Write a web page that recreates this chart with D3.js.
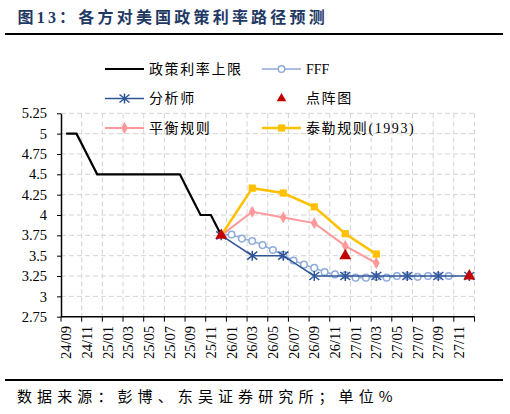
<!DOCTYPE html>
<html>
<head>
<meta charset="utf-8">
<script src="https://cdn.jsdelivr.net/npm/d3@7"></script>
<style>
  body { margin: 0; background: #fff; }
  svg { display: block; }
</style>
</head>
<body>
<div id="chart"></div>
<script>
// months on the category axis
const months = ["24/09","24/10","24/11","24/12","25/01","25/02","25/03","25/04","25/05","25/06",
  "25/07","25/08","25/09","25/10","25/11","25/12","26/01","26/02","26/03","26/04",
  "26/05","26/06","26/07","26/08","26/09","26/10","26/11","26/12","27/01","27/02",
  "27/03","27/04","27/05","27/06","27/07","27/08","27/09","27/10","27/11","27/12"];
const tickLabels = ["24/09","24/11","25/01","25/03","25/05","25/07","25/09","25/11","26/01","26/03",
  "26/05","26/07","26/09","26/11","27/01","27/03","27/05","27/07","27/09","27/11"];
const yTicks = [2.75, 3, 3.25, 3.5, 3.75, 4, 4.25, 4.5, 4.75, 5, 5.25];

// series: [month, value]
const policyRate = [["24/09",5],["24/10",5],["24/11",4.75],["24/12",4.5],["25/01",4.5],["25/02",4.5],
  ["25/03",4.5],["25/04",4.5],["25/05",4.5],["25/06",4.5],["25/07",4.5],["25/08",4.5],
  ["25/09",4.25],["25/10",4],["25/11",4],["25/12",3.75]];
const fff = [["25/12",3.75],["26/01",3.76],["26/02",3.71],["26/03",3.68],["26/04",3.63],["26/05",3.57],
  ["26/06",3.51],["26/07",3.44],["26/08",3.39],["26/09",3.35],["26/10",3.30],["26/11",3.27],
  ["26/12",3.26],["27/01",3.23],["27/02",3.23],["27/03",3.24],["27/04",3.23],["27/05",3.25],
  ["27/06",3.25],["27/07",3.24],["27/08",3.25],["27/09",3.25],["27/10",3.25]];
const analyst = [["25/12",3.75],["26/03",3.5],["26/06",3.5],["26/09",3.25],["26/12",3.25],
  ["27/03",3.25],["27/06",3.25],["27/09",3.25],["27/12",3.25]];
const dotPlot = [["25/12",3.75],["26/12",3.5],["27/12",3.25]];
const balanced = [["25/12",3.75],["26/03",4.04],["26/06",3.97],["26/09",3.90],["26/12",3.62],["27/03",3.41]];
const taylor = [["25/12",3.75],["26/03",4.33],["26/06",4.27],["26/09",4.10],["26/12",3.77],["27/03",3.52]];

const W = 510, H = 414;
const cjk = "'Noto Sans CJK SC', sans-serif";
const serif = "'Liberation Serif', 'Times New Roman', serif";

const svg = d3.select("#chart").append("svg")
    .attr("width", W)
    .attr("height", H);

// title
svg.append("text")
    .attr("x", 17.5).attr("y", 22.5)
    .style("font-family", serif + ", " + cjk)
    .style("font-size", "16px")
    .style("font-weight", "bold")
    .style("letter-spacing", "3.2px")
    .style("fill", "#1f3864")
    .text("图13：各方对美国政策利率路径预测");

svg.append("line").attr("x1", 5).attr("x2", 503).attr("y1", 34).attr("y2", 34)
    .attr("stroke", "#000").attr("stroke-width", 2);
svg.append("line").attr("x1", 5).attr("x2", 503).attr("y1", 380).attr("y2", 380)
    .attr("stroke", "#000").attr("stroke-width", 2);

svg.append("text")
    .attr("x", 17).attr("y", 402)
    .style("font-family", cjk)
    .style("font-size", "15px")
    .style("letter-spacing", "5.1px")
    .style("fill", "#000")
    .text("数据来源：彭博、东吴证券研究所；单位%");

// scales
const x = d3.scaleBand().domain(months).range([61, 474.5]).padding(0);
const y = d3.scaleLinear().domain([2.75, 5.25]).range([316.7, 113.3]);
const cx = m => x(m) + x.bandwidth() / 2;

// grid
const boundaries = d3.range(0, months.length + 1, 2).map(i => 61 + i * x.bandwidth());
svg.append("g").selectAll("line")
    .data(boundaries.slice(1))
    .join("line")
    .attr("x1", d => d).attr("x2", d => d)
    .attr("y1", y(5.25)).attr("y2", y(2.75))
    .attr("stroke", "#d4d4d4").attr("stroke-dasharray", "5,3");
svg.append("g").selectAll("line")
    .data(yTicks.slice(1))
    .join("line")
    .attr("x1", 61).attr("x2", 474.5)
    .attr("y1", d => y(d)).attr("y2", d => y(d))
    .attr("stroke", "#d4d4d4").attr("stroke-dasharray", "5,3");

// y axis
const yAxis = svg.append("g")
    .attr("transform", "translate(61,0)")
    .call(d3.axisLeft(y).tickValues(yTicks).tickSize(4).tickSizeOuter(0).tickPadding(10)
        .tickFormat(d => d3.format("")(d)));
yAxis.select(".domain").attr("stroke", "#000").attr("stroke-width", 1.5);
yAxis.selectAll("line").attr("stroke", "#000");
yAxis.selectAll("text")
    .style("font-family", serif).style("font-size", "14.5px").style("fill", "#000");

// x axis
svg.append("line").attr("x1", 61).attr("x2", 474.5)
    .attr("y1", y(2.75)).attr("y2", y(2.75))
    .attr("stroke", "#000").attr("stroke-width", 1.5);
svg.append("g").selectAll("line")
    .data(boundaries)
    .join("line")
    .attr("x1", d => d).attr("x2", d => d)
    .attr("y1", y(2.75)).attr("y2", y(2.75) + 5)
    .attr("stroke", "#000");
svg.append("g").selectAll("text")
    .data(tickLabels)
    .join("text")
    .attr("transform", d => `translate(${cx(d)},326) rotate(-90)`)
    .attr("text-anchor", "end")
    .attr("dy", "0.35em")
    .style("font-family", serif).style("font-size", "14.5px").style("fill", "#000")
    .text(d => d);

// lines
const line = d3.line().x(d => cx(d[0])).y(d => y(d[1]));

function asteriskPath(r) {
  return `M0,${-r}L0,${r}M${-r},${-r * 0.8}L${r},${r * 0.8}M${-r},${r * 0.8}L${r},${-r * 0.8}`;
}

svg.append("path").datum(policyRate).attr("d", line)
    .attr("fill", "none").attr("stroke", "#000").attr("stroke-width", 2.2);

// FFF
svg.append("path").datum(fff).attr("d", line)
    .attr("fill", "none").attr("stroke", "#8eaadb").attr("stroke-width", 1.5);
svg.append("g").selectAll("circle")
    .data(fff.slice(1))
    .join("circle")
    .attr("cx", d => cx(d[0])).attr("cy", d => y(d[1])).attr("r", 3.3)
    .attr("fill", "#fff").attr("stroke", "#8eaadb").attr("stroke-width", 1.5);

// analyst
svg.append("path").datum(analyst).attr("d", line)
    .attr("fill", "none").attr("stroke", "#2f5597").attr("stroke-width", 1.6);
svg.append("g").selectAll("path")
    .data(analyst)
    .join("path")
    .attr("transform", d => `translate(${cx(d[0])},${y(d[1])})`)
    .attr("d", asteriskPath(5))
    .attr("stroke", "#2f5597").attr("stroke-width", 1.5).attr("fill", "none");

// balanced rule
svg.append("path").datum(balanced).attr("d", line)
    .attr("fill", "none").attr("stroke", "#ff9999").attr("stroke-width", 2);
svg.append("g").selectAll("path")
    .data(balanced.slice(1))
    .join("path")
    .attr("transform", d => `translate(${cx(d[0])},${y(d[1])})`)
    .attr("d", d3.symbol(d3.symbolDiamond, 40)())
    .attr("fill", "#ff9999");

// Taylor rule
svg.append("path").datum(taylor).attr("d", line)
    .attr("fill", "none").attr("stroke", "#ffc000").attr("stroke-width", 2.6);
svg.append("g").selectAll("rect")
    .data(taylor.slice(1))
    .join("rect")
    .attr("x", d => cx(d[0]) - 3.6).attr("y", d => y(d[1]) - 3.6)
    .attr("width", 7.2).attr("height", 7.2)
    .attr("fill", "#ffc000");

// dot plot
svg.append("g").selectAll("path")
    .data(dotPlot)
    .join("path")
    .attr("transform", d => `translate(${cx(d[0])},${y(d[1])})`)
    .attr("d", d3.symbol(d3.symbolTriangle, 62)())
    .attr("fill", "#c00000");

// legend
const legendItems = [
  { name: "政策利率上限", col: 0, row: 0, color: "#000", w: 2.2, marker: null },
  { name: "FFF", col: 1, row: 0, color: "#8eaadb", w: 1.5, marker: "circle" },
  { name: "分析师", col: 0, row: 1, color: "#2f5597", w: 1.6, marker: "asterisk" },
  { name: "点阵图", col: 1, row: 1, color: "#c00000", w: 0, marker: "triangle" },
  { name: "平衡规则", col: 0, row: 2, color: "#ff9999", w: 2, marker: "diamond" },
  { name: "泰勒规则(1993)", col: 1, row: 2, color: "#ffc000", w: 2.6, marker: "square" }
];
const colX = [105, 262], rowY = [69, 98.5, 128];

const lg = svg.append("g").selectAll("g")
    .data(legendItems)
    .join("g")
    .attr("transform", d => `translate(${colX[d.col]},${rowY[d.row]})`);

lg.filter(d => d.w > 0).append("line")
    .attr("x1", 0).attr("x2", 39).attr("y1", 0).attr("y2", 0)
    .attr("stroke", d => d.color).attr("stroke-width", d => d.w);

lg.each(function (d) {
  const g = d3.select(this);
  if (d.marker === "circle") {
    g.append("circle").attr("cx", 19.5).attr("cy", 0).attr("r", 3.3)
        .attr("fill", "#fff").attr("stroke", d.color).attr("stroke-width", 1.5);
  } else if (d.marker === "asterisk") {
    g.append("path").attr("transform", "translate(19.5,0)").attr("d", asteriskPath(5))
        .attr("stroke", d.color).attr("stroke-width", 1.5).attr("fill", "none");
  } else if (d.marker === "triangle") {
    g.append("path").attr("transform", "translate(19.5,0)")
        .attr("d", d3.symbol(d3.symbolTriangle, 40)()).attr("fill", d.color);
  } else if (d.marker === "diamond") {
    g.append("path").attr("transform", "translate(19.5,0)")
        .attr("d", d3.symbol(d3.symbolDiamond, 40)()).attr("fill", d.color);
  } else if (d.marker === "square") {
    g.append("rect").attr("x", 16).attr("y", -3.6).attr("width", 7.2).attr("height", 7.2)
        .attr("fill", d.color);
  }
});

lg.append("text")
    .attr("x", 44)
    .attr("dy", "0.35em")
    .style("font-family", serif + ", " + cjk)
    .style("font-size", "14px")
    .style("letter-spacing", d => /^[A-Z]+$/.test(d.name) ? "0px" : "1.6px")
    .style("fill", "#000")
    .text(d => d.name);
</script>
</body>
</html>
